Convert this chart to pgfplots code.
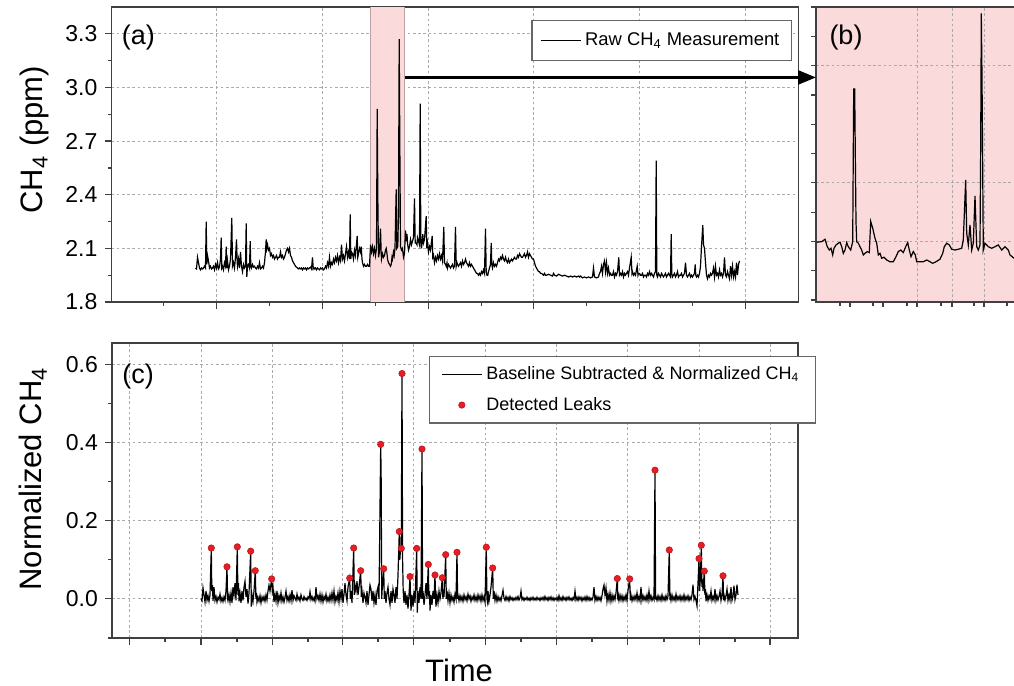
\documentclass[border=0pt]{standalone}
\usepackage{pgfplots}
\pgfplotsset{compat=1.18}
\usepackage{pgfplotstable}
\usepackage{fontspec}
\setmainfont{Liberation Sans}
\usetikzlibrary{arrows.meta}
\definecolor{pinkfill}{RGB}{251,218,220}
\definecolor{pinkedge}{RGB}{190,160,162}
\definecolor{leakred}{RGB}{232,28,36}
\definecolor{gridgray}{RGB}{170,170,170}

% raw CH4 (time in arbitrary units, ppm)
\pgfplotstableread[row sep=\\]{
x y\\
84 1.99\\ 85 1.985\\ 86 2.05\\ 87 2.02\\ 88 1.99\\ 89 1.98\\ 90 1.99\\ 91 1.985\\ 92 1.99\\ 93 2.0\\ 94 1.99\\ 94.7 2.25\\ 95.3 2.01\\ 96 2.06\\ 97 2.03\\ 98 1.99\\ 99 2.0\\ 100 1.985\\
101 1.99\\ 102 2.0\\ 103 1.98\\ 104 2.01\\ 105 1.99\\ 106 2.02\\ 107 1.985\\ 108 1.995\\ 109 2.04\\ 109.7 2.16\\ 110.3 1.99\\ 111 2.0\\ 112 1.98\\ 113 2.02\\ 114 2.0\\ 114.7 2.11\\ 115.3 1.99\\ 116 2.03\\ 117 1.98\\ 118 2.0\\ 119 2.04\\ 120.3 2.27\\ 121 2.0\\ 122 2.02\\ 123 1.99\\ 124 2.05\\ 125 2.15\\ 125.7 2.02\\ 126 2.0\\ 127 2.04\\ 128 1.99\\ 129 2.08\\ 130 2.0\\
131 1.97\\ 132 2.01\\ 133 1.99\\ 134 2.0\\ 134.7 2.24\\ 135.3 1.94\\ 136 2.0\\ 137 2.01\\ 138 1.99\\ 138.7 2.14\\ 139.3 2.0\\ 140 1.99\\ 141 2.01\\ 142 1.995\\ 143 2.0\\ 144 1.99\\ 145 1.985\\ 146 2.0\\ 147 1.99\\ 148 2.02\\ 149 1.985\\ 150 1.99\\ 151 2.0\\ 152 1.99\\ 153 2.02\\ 154 2.08\\ 154.7 2.15\\ 155.3 2.1\\ 156 2.12\\ 157 2.09\\ 158 2.1\\ 159 2.06\\ 160 2.07\\
161 2.05\\ 162 2.06\\ 163 2.04\\ 164 2.05\\ 165 2.06\\ 166 2.04\\ 167 2.05\\ 168 2.05\\ 169 2.08\\ 170 2.05\\ 171 2.06\\ 172 2.04\\ 173 2.05\\ 174 2.07\\ 175 2.09\\ 176 2.1\\ 177 2.08\\ 178 2.1\\ 179 2.06\\ 180 2.05\\ 181 2.03\\ 182 2.02\\ 183 2.01\\ 184 2.0\\ 185 1.995\\ 186 1.99\\ 187 1.985\\ 188 1.99\\ 189 1.985\\ 190 1.99\\
191 1.98\\ 192 1.99\\ 193 1.985\\ 194 1.99\\ 195 1.98\\ 196 1.99\\ 197 1.985\\ 198 1.99\\ 199 1.995\\ 200 1.985\\ 201 2.05\\ 201.7 1.99\\ 202 1.995\\ 203 1.985\\ 204 1.99\\ 205 1.98\\ 206 1.99\\ 207 1.985\\ 208 1.98\\ 209 1.99\\ 210 1.985\\ 211 1.99\\ 212 1.98\\ 213 1.985\\ 214 2.0\\ 215 1.99\\ 216 2.02\\ 217 2.0\\ 218 2.05\\ 219 2.0\\ 220 2.02\\
221 2.01\\ 222 2.04\\ 223 2.02\\ 224 2.05\\ 225 2.03\\ 226 2.06\\ 227 2.02\\ 228 2.05\\ 229 2.03\\ 230 2.12\\ 231 2.04\\ 232 2.06\\ 233 2.03\\ 234 2.07\\ 235 2.11\\ 236 2.05\\ 237 2.08\\ 238 2.04\\ 238.7 2.29\\ 239.3 2.04\\ 240 2.08\\ 241 2.07\\ 242 2.04\\ 243 2.09\\ 244 2.06\\ 245.7 2.17\\ 246.3 2.05\\ 247 2.07\\ 248 2.1\\ 249 2.08\\ 249.7 2.11\\ 250.5 2.04\\
251 2.02\\ 252 2.0\\ 253 2.01\\ 254 2.0\\ 255 2.0\\ 256 2.01\\ 257 2.0\\ 258 2.0\\ 259 2.12\\ 260 2.08\\ 261 2.11\\ 262 2.07\\ 263 2.1\\ 264 2.06\\ 265 2.1\\ 265.7 2.88\\ 266.3 2.4\\ 267 2.05\\ 268 2.08\\ 269 2.21\\ 269.7 2.07\\ 270 2.04\\ 271 2.07\\ 272 2.05\\ 273 2.06\\ 274 2.09\\ 274.7 2.1\\ 275.5 2.07\\ 276 2.04\\ 277 2.02\\ 278 2.01\\ 279 2.0\\ 279.7 2.01\\ 280.5 2.05\\
281 2.04\\ 282 2.08\\ 282.7 2.06\\ 283.5 2.1\\ 284.7 2.43\\ 285.3 2.1\\ 286.3 2.11\\ 287 2.3\\ 287.7 3.27\\ 288.3 2.7\\ 289 2.11\\ 290 2.09\\ 291 2.1\\ 292 2.05\\ 293 2.07\\ 294 2.2\\ 294.7 2.14\\ 295.5 2.18\\ 296 2.13\\ 297 2.09\\ 298 2.11\\ 299 2.15\\ 300 2.12\\ 301 2.14\\ 302 2.16\\ 303 2.38\\ 303.7 2.13\\ 304.7 2.13\\ 305.5 2.12\\ 306 2.16\\ 307 2.14\\ 308 2.12\\ 308.7 2.91\\ 309.3 2.15\\ 310 2.1\\
311.3 2.18\\ 312 2.13\\ 313 2.15\\ 314.7 2.28\\ 315.3 2.1\\ 316 2.13\\ 317 2.08\\ 318 2.11\\ 319 2.09\\ 320.7 2.17\\ 321.3 2.05\\ 322 2.06\\ 323 2.02\\ 324 2.05\\ 325 2.03\\ 326 2.06\\ 327 2.04\\ 328 2.07\\ 329 2.04\\ 330 2.06\\ 331 2.03\\ 332.3 2.22\\ 333 2.02\\ 334 2.01\\ 334.7 2.0\\ 335.5 2.02\\ 336 1.99\\ 337 2.01\\ 338 2.0\\ 339 1.99\\ 340 2.0\\
341 2.01\\ 342 1.99\\ 343 2.0\\ 344 2.22\\ 344.7 2.0\\ 345.5 2.02\\ 346 2.01\\ 347 2.0\\ 348 2.01\\ 349 2.02\\ 350 2.0\\ 351 2.03\\ 352 2.01\\ 353 2.02\\ 354 2.04\\ 355 2.02\\ 356 2.01\\ 357 2.0\\ 358 2.02\\ 359 2.0\\ 360 2.01\\ 361 2.0\\ 362 1.99\\ 363 1.98\\ 364 1.97\\ 365 1.96\\ 366 1.96\\ 367 1.95\\ 368 1.96\\ 369 1.95\\ 370 1.97\\
371 1.96\\ 372 1.98\\ 373 1.96\\ 374 2.21\\ 374.7 1.97\\ 375.5 1.95\\ 376.3 1.95\\ 377 1.97\\ 378 1.99\\ 379 2.01\\ 379.7 2.13\\ 380.3 2.01\\ 381 1.99\\ 382 2.02\\ 383 2.0\\ 384 2.01\\ 385 2.0\\ 386 2.02\\ 387 2.04\\ 388 2.03\\ 389 2.05\\ 390 2.04\\ 391 2.06\\ 392 2.04\\ 393 2.03\\ 394 2.05\\ 395 2.03\\ 396 2.02\\ 397 2.04\\ 398 2.02\\ 399 2.03\\ 400 2.04\\
401 2.03\\ 402 2.04\\ 403 2.05\\ 404 2.04\\ 405 2.04\\ 406 2.06\\ 407 2.05\\ 408 2.07\\ 409 2.06\\ 410 2.05\\ 411 2.05\\ 412 2.06\\ 413 2.07\\ 414 2.05\\ 415 2.06\\ 416 2.08\\ 417 2.05\\ 418 2.07\\ 419 2.06\\ 420 2.05\\ 421 2.04\\ 422 2.04\\ 423 2.02\\ 424 2.0\\ 425 1.99\\ 426 1.98\\ 427 1.97\\ 428 1.97\\ 429 1.96\\ 430 1.96\\
431 1.955\\ 432 1.95\\ 433 1.96\\ 434 1.95\\ 435 1.95\\ 437 1.955\\ 439 1.95\\ 441 1.945\\ 442 1.96\\ 443 1.95\\ 445 1.945\\ 447 1.955\\ 449 1.95\\ 451 1.945\\ 453 1.95\\ 455 1.945\\ 457 1.94\\ 459 1.945\\ 461 1.94\\ 463 1.945\\ 465 1.94\\ 467 1.945\\ 468 1.94\\ 469 1.945\\ 471 1.935\\ 473 1.94\\ 475 1.935\\ 477 1.94\\ 479 1.935\\ 481 1.94\\ 482 1.99\\ 483 1.94\\ 485 1.935\\ 487 1.94\\
488 1.96\\ 489 1.97\\ 490 2.0\\ 491 1.96\\ 492 2.01\\ 493 2.03\\ 494 1.97\\ 495 2.02\\ 496 1.96\\ 497 1.99\\ 498 1.95\\ 499 1.96\\ 500 1.95\\ 501 1.95\\ 502 1.97\\ 503 1.94\\ 504 1.96\\ 505 1.95\\ 506 1.97\\ 507.3 2.05\\ 508 1.95\\ 509 1.96\\ 510 1.95\\ 511 1.97\\ 512 1.94\\ 513 1.96\\ 514 1.95\\ 515 1.96\\ 516 1.97\\ 517 1.95\\ 518 1.99\\ 519.7 2.05\\ 520.5 1.96\\
521 1.97\\ 522 1.95\\ 523 1.96\\ 524 1.95\\ 525.7 2.0\\ 526.5 1.95\\ 527 1.96\\ 528 1.96\\ 529 1.95\\ 530 1.95\\ 531 1.96\\ 532 1.94\\ 533 1.95\\ 534 1.95\\ 535 1.94\\ 536 1.96\\ 537 1.95\\ 538 1.97\\ 539 1.95\\ 540 1.96\\ 541 1.95\\ 542 1.94\\ 543 1.96\\ 544 1.97\\ 544.7 2.59\\ 545.3 1.95\\ 546 1.94\\ 547 1.96\\ 548 1.95\\ 549 1.94\\ 550 1.96\\
551 1.95\\ 552 1.94\\ 553 1.95\\ 554 1.96\\ 555 1.94\\ 556 1.95\\ 557 1.96\\ 558 1.95\\ 559 1.94\\ 559.7 2.18\\ 560.3 1.96\\ 561 1.94\\ 562 1.95\\ 563 1.96\\ 564 1.94\\ 565 1.95\\ 566 1.97\\ 567 1.94\\ 568 1.95\\ 569 1.95\\ 570 1.96\\ 571 1.94\\ 572 1.95\\ 573 1.96\\ 574 2.02\\ 575 1.95\\ 576 1.94\\ 577 1.95\\ 578 1.96\\ 579 1.94\\ 580 1.95\\
581 1.94\\ 582 1.95\\ 583 1.96\\ 583.7 2.01\\ 584.3 1.95\\ 585 1.94\\ 586 1.95\\ 587 1.94\\ 588 1.96\\ 589 2.0\\ 590 2.11\\ 591.3 2.23\\ 592 2.12\\ 593 2.1\\ 594 2.02\\ 595 1.95\\ 596 1.93\\ 597 1.95\\ 598 1.94\\ 599 1.96\\ 600 1.95\\ 601 1.96\\ 602 1.99\\ 603 1.94\\ 604 2.0\\ 605 1.95\\ 606 1.96\\ 607 1.94\\ 608 1.98\\ 609 1.95\\ 610 1.96\\
611 1.94\\ 612 1.96\\ 613 2.05\\ 614 1.95\\ 615 1.94\\ 616 1.97\\ 617 1.95\\ 618 1.93\\ 619 2.0\\ 620 1.95\\ 621 2.0\\ 622 1.94\\ 623 1.97\\ 624 1.94\\ 625 2.02\\ 626 1.95\\ 627 2.01\\ 628 2.03\\
}\rawa

% zoomed window (b)
\pgfplotstableread[row sep=\\]{
x y\\
0.7 2.096\\ 5.7 2.099\\ 9 2.111\\ 11.3 2.073\\ 13.3 2.056\\ 15 2.065\\ 16.7 2.031\\ 18 2.065\\ 20 2.082\\ 22.3 2.091\\ 24 2.096\\ 25.7 2.073\\ 27.3 2.039\\ 29 2.056\\ 30.7 2.094\\ 32.3 2.073\\ 34.7 2.056\\ 36.7 2.099\\ 37.7 2.88\\ 38.7 2.88\\ 39.3 2.55\\ 40 2.2\\ 40.7 2.099\\
42.3 2.091\\ 44 2.073\\ 45.7 2.056\\ 47.3 2.031\\ 49 2.039\\ 51.3 2.048\\ 53.3 2.043\\ 54.7 2.202\\ 56.7 2.168\\ 59 2.116\\ 60.7 2.091\\ 62.3 2.031\\ 64 2.039\\ 65.7 2.014\\ 68 2.019\\ 70.7 2.005\\ 74 1.996\\ 77.3 1.996\\ 80 2.022\\ 82.3 2.048\\ 84.7 2.056\\ 87.3 2.043\\ 89.7 2.073\\ 91.7 2.094\\
93.3 2.056\\ 95 2.022\\ 97.3 2.048\\ 99.3 2.031\\ 100.7 1.996\\ 103.3 1.996\\ 107.3 1.996\\ 110.7 2.005\\ 114 1.996\\ 116.7 1.988\\ 120 1.996\\ 124 2.009\\ 126.7 2.039\\ 128.3 2.073\\ 130.7 2.091\\ 133.3 2.082\\ 135.7 2.060\\ 139 2.056\\ 142.3 2.060\\ 145.7 2.065\\ 147.3 2.108\\ 149.7 2.415\\
150.7 2.142\\ 152.3 2.082\\ 154 2.185\\ 155.7 2.056\\ 157.3 2.091\\ 159 2.333\\ 160.7 2.073\\ 162.3 2.056\\ 164 2.082\\ 164.7 2.6\\ 165.3 3.267\\ 166 2.95\\ 166.7 2.47\\ 167.3 2.056\\ 169 2.091\\ 172.3 2.073\\ 175.7 2.065\\ 179 2.073\\ 182.3 2.082\\ 185.7 2.056\\ 189 2.073\\ 192.3 2.056\\ 194 2.031\\ 198 2.014\\
}\rawb

% baseline subtracted & normalized
\pgfplotstableread[row sep=\\]{
x y\\
89 0.0\\ 90 -0.005\\ 91 0.028\\ 92 0.01\\ 93 -0.008\\ 94 0.02\\ 95 -0.004\\ 96 0.008\\ 97 -0.006\\ 98 0.01\\ 99.3 0.13\\ 99.8 0.02\\ 100.5 0.035\\ 101 -0.005\\ 102 0.03\\ 103 -0.004\\ 104 0.006\\ 105 -0.008\\ 106 0.004\\ 107 -0.002\\ 108 0.012\\ 109 -0.006\\ 110 0.003\\
111 -0.007\\ 112 0.005\\ 113 -0.004\\ 114 0.02\\ 115 0.082\\ 115.6 0.0\\ 116 -0.005\\ 117 0.01\\ 118 -0.008\\ 119 0.015\\ 120 -0.01\\ 121 0.03\\ 122 0.01\\ 123 0.04\\ 124 -0.004\\ 125.3 0.133\\ 125.9 0.01\\ 126.5 0.04\\ 127 -0.006\\ 128 0.015\\ 129 -0.01\\ 130 0.02\\
131 -0.004\\ 132 0.03\\ 133 0.045\\ 134 0.005\\ 135 0.025\\ 136 -0.012\\ 137 0.015\\ 138.7 0.122\\ 139.3 -0.02\\ 140 0.01\\ 141 -0.006\\ 142 0.02\\ 143.3 0.072\\ 143.9 0.0\\ 144.5 0.015\\ 145 -0.008\\ 146 0.004\\ 147 -0.006\\ 148 0.008\\ 149 -0.01\\ 150 0.005\\
151 -0.004\\ 152 0.006\\ 153 -0.006\\ 154 0.01\\ 155 -0.003\\ 156 0.02\\ 157 0.035\\ 158 0.02\\ 159.7 0.051\\ 160.3 0.02\\ 161 0.03\\ 162 -0.008\\ 163 0.012\\ 164 -0.006\\ 165 0.02\\ 166 -0.01\\ 167 0.008\\ 168 -0.004\\ 169 0.015\\ 170 -0.006\\
171 0.005\\ 172 -0.008\\ 173 0.004\\ 174 0.02\\ 175 -0.004\\ 176 0.006\\ 177 -0.006\\ 178 0.01\\ 179 -0.005\\ 180 0.022\\ 181 -0.004\\ 182 0.008\\ 183 0.002\\ 184 -0.004\\ 185 0.012\\ 186 -0.002\\ 187 0.004\\ 188 -0.005\\ 189 0.01\\ 190 0.0\\
191 -0.004\\ 192 0.006\\ 193 -0.002\\ 194 0.002\\ 195 -0.004\\ 196 0.005\\ 197 0.0\\ 198 0.018\\ 199 -0.002\\ 200 0.006\\ 201 -0.004\\ 202 0.003\\ 203 -0.006\\ 204 0.03\\ 205 0.0\\ 206 0.008\\ 207 -0.004\\ 208 0.012\\ 209 -0.006\\ 210 0.01\\
211 -0.008\\ 212 0.006\\ 213 -0.002\\ 214 0.012\\ 215 -0.006\\ 216 0.004\\ 217 -0.006\\ 218 0.01\\ 219 -0.004\\ 220 0.015\\ 221 -0.003\\ 222 0.02\\ 223 -0.008\\ 224 0.006\\ 225 -0.004\\ 226 0.015\\ 227 -0.008\\ 228 0.02\\ 229 0.0\\ 230 0.025\\
231 -0.01\\ 232 0.012\\ 233 0.04\\ 234 0.01\\ 235 -0.005\\ 236 0.03\\ 237.7 0.053\\ 238.3 0.0\\ 239 0.02\\ 240 -0.01\\ 241.7 0.13\\ 242.3 0.01\\ 243 0.035\\ 244 0.02\\ 245 0.045\\ 246 0.01\\ 247 0.03\\ 248.7 0.072\\ 249.3 0.005\\ 250 0.02\\
251 -0.01\\ 252 0.015\\ 253 0.005\\ 254 -0.01\\ 255 0.02\\ 256 -0.015\\ 257 0.01\\ 258 0.035\\ 259 0.025\\ 260 -0.005\\ 261 0.02\\ 262 -0.01\\ 263 0.01\\ 264 -0.015\\ 265 0.02\\ 266 0.03\\ 267 0.0\\ 268.7 0.395\\ 269.2 0.3\\ 269.7 0.0\\ 270.3 0.03\\
271.7 0.077\\ 272.3 0.0\\ 273 0.02\\ 274 -0.01\\ 275 0.015\\ 276 0.03\\ 277 0.0\\ 278 -0.015\\ 279 0.02\\ 280 -0.01\\ 281 0.025\\ 282 0.01\\ 283 -0.01\\ 284 0.03\\ 285 0.0\\ 286 0.06\\ 287.3 0.172\\ 287.8 0.1\\ 288.6 0.13\\ 289.3 0.129\\ 290 0.576\\ 290.6 0.1\\
291.2 0.02\\ 292 -0.01\\ 293 0.02\\ 294 -0.015\\ 295 0.01\\ 296 -0.025\\ 297 0.01\\ 298 0.057\\ 298.6 0.0\\ 299 -0.03\\ 300 0.01\\ 301 -0.02\\ 302 0.02\\ 303 -0.01\\ 304.7 0.129\\ 305.3 -0.035\\ 306 0.02\\ 307 -0.01\\ 308 0.03\\ 309 0.0\\ 310 0.383\\ 310.6 0.0\\
311 0.02\\ 312 -0.015\\ 313 0.01\\ 314 0.04\\ 315 0.0\\ 316.3 0.088\\ 316.9 0.0\\ 317.5 0.02\\ 318 -0.03\\ 319 0.01\\ 320 -0.015\\ 321 0.02\\ 322 0.0\\ 323 0.061\\ 323.6 0.0\\ 324 -0.02\\ 325 0.01\\ 326 -0.01\\ 327 0.02\\ 328 0.0\\ 329 0.015\\ 330.3 0.054\\
330.9 0.0\\ 331.5 0.02\\ 332 0.005\\ 333.7 0.113\\ 334.3 0.0\\ 335 0.02\\ 336 -0.005\\ 337 0.015\\ 338 -0.01\\ 339 0.01\\ 340 -0.004\\ 341 0.005\\ 342 -0.008\\ 343 0.012\\ 344 0.0\\ 345 0.119\\ 345.6 0.0\\ 346 0.01\\ 347 -0.005\\ 348 0.008\\ 349 -0.004\\ 350 0.006\\
351 -0.006\\ 352 0.01\\ 353 -0.002\\ 354 0.006\\ 355 -0.005\\ 356 0.012\\ 357 0.0\\ 358 0.008\\ 359 -0.006\\ 360 0.005\\ 361 -0.002\\ 362 0.01\\ 363 -0.004\\ 364 0.006\\ 365 -0.005\\ 366 0.01\\ 367 -0.002\\ 368 0.008\\ 369 -0.006\\ 370 0.01\\
371 -0.004\\ 372 0.006\\ 373 -0.008\\ 374.3 0.132\\ 374.9 0.0\\ 375.5 -0.008\\ 376 0.02\\ 377 -0.006\\ 378 0.01\\ 379 0.03\\ 380.7 0.079\\ 381.3 0.0\\ 382 0.02\\ 383 -0.004\\ 384 0.01\\ 385 -0.006\\ 386 0.006\\ 387 -0.004\\ 388 0.003\\ 389 -0.005\\ 390 0.008\\
391 0.022\\ 392 0.002\\ 393 -0.004\\ 394 0.006\\ 395 -0.003\\ 396 0.004\\ 397 -0.005\\ 398 0.006\\ 399 -0.002\\ 400 0.003\\ 401 -0.004\\ 402 0.002\\ 403 -0.003\\ 404 0.004\\ 405 -0.002\\ 406 0.006\\ 407 -0.003\\ 408 0.002\\ 409 0.02\\ 410 -0.002\\
411 0.003\\ 412 -0.004\\ 413 0.002\\ 414 -0.002\\ 415 0.004\\ 416 -0.003\\ 417 0.002\\ 418 -0.004\\ 419 0.003\\ 420 -0.002\\ 421 0.004\\ 422 -0.003\\ 423 0.002\\ 424 -0.003\\ 425 0.004\\ 426 -0.002\\ 427 0.002\\ 428 -0.004\\ 429 0.003\\ 430 -0.002\\
431 0.004\\ 432 -0.003\\ 433 0.006\\ 434 -0.002\\ 435 0.003\\ 436 -0.004\\ 437 0.004\\ 438 -0.002\\ 439 0.005\\ 440 -0.003\\ 441 0.003\\ 442 -0.004\\ 443 0.002\\ 444 -0.002\\ 445 0.004\\ 446 -0.004\\ 447 0.008\\ 448 -0.003\\ 449 0.003\\ 450 -0.004\\
451 0.006\\ 452 -0.002\\ 453 0.003\\ 454 -0.004\\ 455 0.004\\ 456 -0.002\\ 457 0.005\\ 458 -0.003\\ 459 0.002\\ 460 -0.004\\ 461 0.003\\ 462 -0.002\\ 463 0.02\\ 464 -0.003\\ 465 0.004\\ 466 -0.004\\ 467 0.005\\ 468 -0.002\\ 469 0.004\\ 470 -0.005\\
471 0.003\\ 472 -0.003\\ 473 0.005\\ 474 -0.004\\ 475 0.006\\ 476 -0.003\\ 477 0.004\\ 478 -0.004\\ 479 0.002\\ 480 -0.003\\ 481 0.004\\ 482 0.03\\ 483 -0.004\\ 484 0.006\\ 485 -0.004\\ 486 0.005\\ 487 -0.003\\ 488 0.004\\ 489 -0.005\\ 490 0.008\\
491 0.025\\ 492 0.035\\ 493 0.01\\ 494 0.028\\ 495 -0.006\\ 496 0.012\\ 497 -0.004\\ 498 0.015\\ 499 -0.006\\ 500 0.01\\ 501 -0.004\\ 502 0.008\\ 503 -0.002\\ 504 0.015\\ 505.3 0.052\\ 505.9 -0.004\\ 506.5 0.006\\ 507 -0.004\\ 508 0.01\\ 509 -0.003\\ 510 0.008\\
511 -0.005\\ 512 0.006\\ 513 -0.003\\ 514 0.01\\ 515 -0.004\\ 516 0.022\\ 517.7 0.051\\ 518.3 -0.004\\ 519 0.01\\ 520 -0.005\\ 521 0.006\\ 522 -0.003\\ 523 0.008\\ 524 -0.002\\ 525 0.015\\ 526 -0.004\\ 527 0.006\\ 528 -0.005\\ 529 0.03\\ 530 -0.004\\
531 0.008\\ 532 -0.003\\ 533 0.006\\ 534 -0.004\\ 535 0.01\\ 536 -0.004\\ 537 0.02\\ 538 -0.002\\ 539 0.008\\ 540 -0.004\\ 541 0.004\\ 542 -0.002\\ 543 0.329\\ 543.6 -0.002\\ 544 0.006\\ 545 -0.004\\ 546 0.008\\ 547 -0.003\\ 548 0.006\\ 549 -0.004\\ 550 0.01\\
551 -0.003\\ 552 0.005\\ 553 -0.004\\ 554 0.008\\ 555 -0.002\\ 556 0.006\\ 557.3 0.125\\ 557.9 -0.003\\ 558.5 0.006\\ 559 -0.004\\ 560 0.01\\ 561 -0.003\\ 562 0.005\\ 563 -0.004\\ 564 0.012\\ 565 -0.003\\ 566 0.006\\ 567 -0.002\\ 568 0.008\\ 569 -0.004\\ 570 0.006\\
571 -0.003\\ 572 0.01\\ 573 -0.004\\ 574 0.006\\ 575 -0.002\\ 576 0.008\\ 577 -0.004\\ 578 0.005\\ 579 -0.002\\ 580 0.01\\ 581 0.036\\ 582 -0.002\\ 583 0.006\\ 584 -0.004\\ 585 -0.018\\ 586 0.04\\ 587 0.103\\ 587.6 0.02\\ 588.5 0.06\\ 589.3 0.137\\ 589.9 0.03\\ 590.5 0.05\\
591 0.02\\ 592.3 0.071\\ 592.9 0.01\\ 593.5 0.025\\ 594 -0.006\\ 595 0.01\\ 596 -0.004\\ 597 0.008\\ 598 0.0\\ 599 0.02\\ 600 -0.004\\ 601 0.006\\ 602 -0.003\\ 603 0.025\\ 604 -0.004\\ 605 0.008\\ 606 -0.003\\ 607 0.006\\ 608 0.02\\ 609 -0.004\\ 610 0.01\\
611 0.059\\ 611.6 -0.004\\ 612 0.01\\ 613 -0.003\\ 614 0.008\\ 615 0.025\\ 616 -0.004\\ 617 0.01\\ 618 -0.003\\ 619 0.03\\ 620 -0.004\\ 621 0.006\\ 622 0.034\\ 623 -0.002\\ 624 0.01\\ 625 0.036\\ 626 0.01\\
}\normc

% detected leaks
\pgfplotstableread[row sep=\\]{
x y\\
99.3 0.130\\ 115 0.082\\ 125.3 0.133\\ 138.7 0.122\\ 143.3 0.072\\ 159.7 0.051\\ 237.7 0.053\\ 241.7 0.130\\ 248.7 0.072\\ 268.7 0.395\\ 271.7 0.077\\ 287.3 0.172\\ 289.3 0.129\\ 290 0.576\\ 298 0.057\\ 304.7 0.129\\
310 0.383\\ 316.3 0.088\\ 323 0.061\\ 330.3 0.054\\ 333.7 0.113\\ 345 0.119\\ 374.3 0.132\\ 380.7 0.079\\ 505.3 0.052\\ 517.7 0.051\\ 543 0.329\\ 557.3 0.125\\ 587 0.103\\ 589.3 0.137\\ 592.3 0.071\\ 611 0.059\\
}\leaks

\tikzset{tagnode/.style={font=\fontsize{13.5}{15}\selectfont}}

\pgfplotsset{
  set layers,
  paper/.style={
    scale only axis, anchor=south west,
    axis line style={black!75, line width=0.8pt},
    tick align=outside, tick pos=left,
    major tick length=3.5pt, minor tick length=2pt,
    tick style={black!75, line width=0.6pt},
    grid=major,
    major grid style={gridgray, line width=0.45pt, dash pattern=on 1.3pt off 1.3pt},
    tick label style={font=\fontsize{11.5}{13}\selectfont},
    /pgf/number format/assume math mode=true,
    xticklabels={},
    label style={font=\fontsize{15.5}{18}\selectfont},
    legend cell align=left,
    legend image code/.code={\draw[mark repeat=2,mark phase=2,##1] plot coordinates {(0pt,0pt) (10pt,0pt) (20pt,0pt)};},
  },
}

\begin{document}
\begin{tikzpicture}
\begin{axis}[paper, name=aax, at={(55.75pt,192pt)}, width=343.5pt, height=147.5pt,
  xmin=0, xmax=687, ymin=1.8, ymax=3.45,
  xtick={105,211,317,422,528,634}, minor xtick={52,158,264,370,475,581},
  ytick={1.8,2.1,2.4,2.7,3.0,3.3}, minor ytick={1.95,2.25,2.55,2.85,3.15},
  yticklabel style={/pgf/number format/.cd,fixed,fixed zerofill,precision=1},
  ylabel={CH\textsubscript{4} (ppm)},
  y label style={at={(rel axis cs:-0.112,0.55)}, anchor=center},
  legend style={at={(0.9905,0.956)}, anchor=north east, draw=black!60, line width=0.6pt,
    font=\fontsize{9.2}{10}\selectfont, inner xsep=4pt, inner ysep=4pt}]
\fill[pinkfill, on layer=axis background] (axis cs:259,1.8) rectangle (axis cs:293,3.45);
\draw[pinkedge, line width=0.6pt] (axis cs:259,1.8) -- (axis cs:259,3.45) (axis cs:293,1.8) -- (axis cs:293,3.45);
\addplot[black, line width=0.6pt] table {\rawa};
\addlegendentry{Raw CH\textsubscript{4} Measurement\hspace{4pt}}
\coordinate (arrs) at (axis cs:293,3.056);
\node[tagnode] at (rel axis cs:0.039,0.895) {(a)};
\end{axis}

\begin{axis}[paper, name=bax, at={(408pt,192pt)}, width=100pt, height=147.5pt,
  xmin=0, xmax=200, ymin=1.79, ymax=3.3,
  axis background/.style={fill=pinkfill},
  grid=none, major tick length=2.5pt, minor tick length=1.8pt,
  xtick={34,67,101,136,168}, minor xtick={24,57,91,125,158,191},
  ytick={1.8,1.95,2.1,2.25,2.4,2.55,2.7,2.85,3.0,3.15,3.3}, yticklabels={},
  extra x ticks={101,136,168}, extra x tick labels={}, extra x tick style={grid=major, major tick length=0pt},
  extra y ticks={2.1,2.4,3.0}, extra y tick labels={}, extra y tick style={grid=major, major tick length=0pt}]
\addplot[black, line width=0.6pt] table {\rawb};
\node[tagnode] at (rel axis cs:0.15,0.895) {(b)};
\end{axis}

\begin{axis}[paper, name=cax, at={(56pt,24pt)}, width=343pt, height=147.5pt,
  xmin=0, xmax=686, ymin=-0.1, ymax=0.654,
  xtick={17.3,89,160.7,230.7,301.5,373.7,444.7,515.7,587.3,658},
  minor xtick={53,125,196,266,338,409,480,552,623},
  ytick={0,0.2,0.4,0.6}, minor ytick={-0.1,0.1,0.3,0.5},
  yticklabel style={/pgf/number format/.cd,fixed,fixed zerofill,precision=1},
  ylabel={Normalized CH\textsubscript{4}},
  y label style={at={(rel axis cs:-0.115,0.539)}, anchor=center},
  xlabel={Time},
  x label style={at={(rel axis cs:0.506,-0.11)}, anchor=center},
  legend style={at={(1.026,0.956)}, anchor=north east, draw=black!60, line width=0.6pt,
    font=\fontsize{9}{10}\selectfont, inner xsep=6pt, inner ysep=3pt, row sep=3.2pt}]
\addplot[black, line width=0.6pt] table {\normc};
\addlegendentry{Baseline Subtracted \& Normalized CH\textsubscript{4}}
\addplot[only marks, mark=*, mark size=1.6pt,
  mark options={fill=leakred, draw=leakred!80!black, line width=0.3pt}] table {\leaks};
\addlegendentry{Detected Leaks}
\node[tagnode] at (rel axis cs:0.038,0.885) {(c)};
\end{axis}

\draw[line width=1.3pt, -{Triangle[length=9pt,width=7pt]}] (arrs) -- (arrs -| bax.south west);

\pgfresetboundingbox
\path[use as bounding box] (0,0) rectangle (507pt,343pt);
\end{tikzpicture}
\end{document}
